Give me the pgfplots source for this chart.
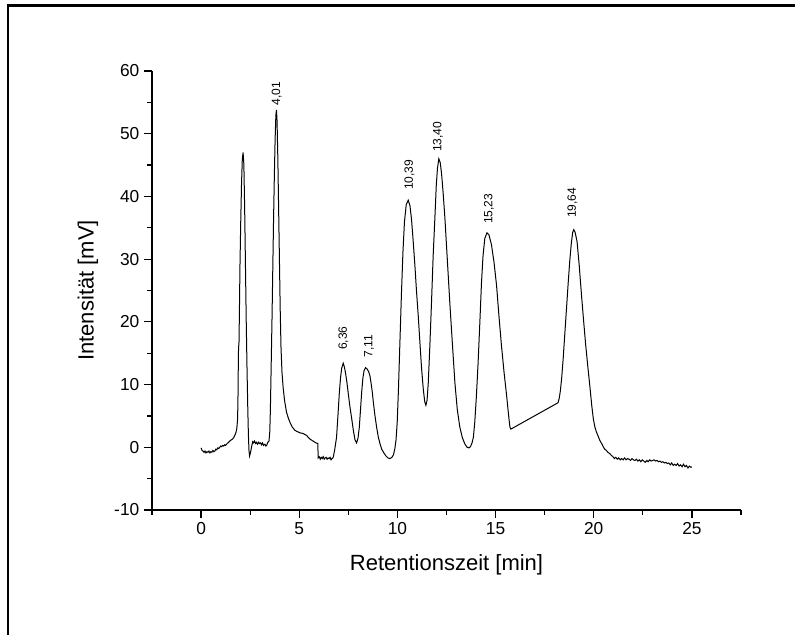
\documentclass[border=0pt]{standalone}
\usepackage{pgfplots}
\pgfplotsset{compat=1.18}
\usepackage{fontspec}
\setmainfont{Liberation Sans}
\begin{document}
\begin{tikzpicture}
\path[use as bounding box] (-114pt,-93.75pt) rectangle (482.25pt,382.5pt);
\draw[line width=1.7pt] (-108.15pt,-93.75pt) -- (-108.15pt,378.4pt) -- (482.25pt,378.4pt);
\begin{axis}[
  scale only axis, width=441.75pt, height=329.25pt,
  xmin=-2.5, xmax=27.5, ymin=-10, ymax=60,
  axis x line*=bottom, axis y line*=left,
  axis line style={line width=0.9pt},
  xtick={0,5,10,15,20,25}, ytick={-10,0,10,20,30,40,50,60},
  minor xtick={-2.5,2.5,7.5,12.5,17.5,22.5,27.5},
  minor ytick={-5,5,15,25,35,45,55},
  tick align=outside, major tick length=6pt, minor tick length=3.4pt,
  tick style={line width=0.9pt, black},
  /pgf/number format/assume math mode=true,
  ticklabel style={font=\fontsize{13}{15}\selectfont},
  xlabel={Retentionszeit [min]}, ylabel={Intensit\"at [mV]},
  label style={font=\fontsize{16.5}{19}\selectfont},
  xlabel style={at={(axis description cs:0.5,-0.1245)}, anchor=center},
  ylabel style={at={(axis description cs:-0.1087,0.5)}, anchor=center},
  clip=false,
]
\addplot[black, line width=0.75pt] coordinates {
(0.00,-0.1) (0.05,-0.5) (0.10,-0.6) (0.15,-0.8) (0.20,-0.6) (0.25,-0.9) (0.30,-0.7) (0.35,-0.8) (0.40,-0.6) (0.45,-0.9) (0.50,-0.7) (0.55,-0.8) (0.60,-0.5) (0.65,-0.7) (0.70,-0.6) (0.75,-0.3) (0.80,-0.4) (0.85,-0.1) (0.90,-0.2) (0.95,0.0) (1.00,0.2) (1.05,0.1) (1.10,0.3) (1.15,0.2) (1.20,0.4) (1.25,0.3) (1.30,0.5) (1.40,0.8) (1.50,1.1) (1.60,1.3) (1.65,1.5) (1.72,1.9) (1.78,2.4) (1.82,3.0) (1.86,4.5) (1.88,8) (1.90,14.5) (1.91,16.0) (1.93,16.5) (1.95,21) (1.98,28.8) (2.02,36) (2.06,42) (2.10,46) (2.14,47.0) (2.18,45) (2.22,38) (2.26,29) (2.30,20) (2.34,12.5) (2.38,6) (2.41,2.0) (2.44,-0.5) (2.47,-1.4) (2.52,-0.8) (2.58,0.2) (2.63,0.9) (2.68,0.7) (2.72,1.0) (2.78,0.6) (2.83,0.8) (2.88,0.5) (2.93,0.8) (2.98,0.6) (3.03,0.7) (3.08,0.4) (3.13,0.7) (3.18,0.3) (3.25,0.5) (3.30,0.2) (3.34,0.3) (3.40,0.8) (3.46,1.0) (3.50,2.5) (3.53,6) (3.57,13) (3.61,20) (3.65,28) (3.69,36) (3.73,43) (3.77,49) (3.81,53) (3.84,53.8) (3.87,52) (3.91,46) (3.95,38) (3.99,30) (4.03,22) (4.07,16) (4.12,12) (4.18,9.5) (4.25,7.5) (4.35,5.6) (4.45,4.6) (4.55,3.8) (4.65,3.2) (4.78,2.7) (4.90,2.5) (5.04,2.3) (5.20,2.2) (5.30,2.0) (5.38,1.9) (5.45,1.6) (5.55,1.3) (5.65,1.1) (5.75,0.9) (5.85,0.7) (5.95,0.6) (5.96,-1.7) (6.02,-1.5) (6.07,-1.9) (6.12,-1.6) (6.17,-1.8) (6.22,-1.5) (6.27,-1.9) (6.32,-1.7) (6.37,-1.6) (6.42,-1.9) (6.47,-1.7) (6.52,-1.8) (6.57,-1.6) (6.62,-2.0) (6.67,-1.8) (6.73,-1.6) (6.80,-0.5) (6.90,1.6) (6.97,5) (7.04,8.6) (7.10,11) (7.16,12.6) (7.24,13.4) (7.30,12.8) (7.36,11.8) (7.43,10.3) (7.50,8.5) (7.58,6.5) (7.67,4.6) (7.76,2.6) (7.84,1.2) (7.92,0.7) (7.99,1.4) (8.06,3.2) (8.12,6) (8.18,8.8) (8.24,11) (8.30,12.2) (8.38,12.7) (8.45,12.5) (8.53,12.1) (8.60,11.4) (8.66,10.2) (8.72,8.8) (8.77,7.3) (8.85,5.2) (8.94,3.2) (9.03,1.6) (9.11,0.6) (9.20,-0.3) (9.31,-0.9) (9.42,-1.4) (9.52,-1.7) (9.62,-1.8) (9.72,-1.6) (9.80,-1.2) (9.87,-0.2) (9.93,1.2) (9.99,4) (10.05,9) (10.12,16) (10.20,24) (10.28,31) (10.36,36) (10.45,38.7) (10.55,39.4) (10.64,38.5) (10.72,36.3) (10.80,33) (10.89,29) (10.97,25) (11.06,21) (11.15,16.5) (11.23,12.6) (11.32,9.2) (11.39,7.3) (11.45,6.7) (11.51,7.5) (11.57,10.2) (11.65,16) (11.74,23.4) (11.82,30.5) (11.91,36.7) (11.98,41.8) (12.04,44.5) (12.11,46.0) (12.18,45.4) (12.25,43.6) (12.33,40.5) (12.42,36.5) (12.54,30) (12.67,23) (12.80,16.5) (12.93,10.2) (13.05,6) (13.18,3.2) (13.31,1.5) (13.44,0.5) (13.55,0.0) (13.64,-0.1) (13.72,0.1) (13.80,0.7) (13.87,1.6) (13.94,4) (14.02,8) (14.11,13.5) (14.20,20) (14.28,26.1) (14.36,30.5) (14.45,33.3) (14.56,34.2) (14.66,33.9) (14.79,32.3) (14.92,29.5) (15.05,25.8) (15.17,21) (15.30,16.2) (15.43,12) (15.56,8.3) (15.65,5.5) (15.73,3.2) (15.78,2.9) (18.18,7.1) (18.24,7.8) (18.30,9.0) (18.37,11.2) (18.44,14.0) (18.52,17.8) (18.61,22) (18.70,26.3) (18.78,29.8) (18.86,32.6) (18.93,34.3) (18.98,34.7) (19.05,34.3) (19.15,32.8) (19.26,29) (19.37,24.5) (19.48,20.3) (19.59,16.3) (19.70,12.8) (19.80,9.8) (19.90,6.6) (19.98,4.5) (20.06,3.2) (20.14,2.4) (20.22,1.8) (20.31,1.1) (20.40,0.6) (20.48,0.1) (20.56,-0.3) (20.64,-0.5) (20.72,-0.8) (20.81,-1.0) (20.90,-1.3) (20.98,-1.5) (21.05,-1.8) (21.12,-1.6) (21.20,-1.9) (21.27,-1.7) (21.35,-2.0) (21.42,-1.8) (21.50,-2.0) (21.57,-1.7) (21.65,-2.0) (21.72,-1.8) (21.80,-1.9) (21.87,-2.1) (21.95,-1.8) (22.02,-2.0) (22.10,-2.1) (22.17,-1.9) (22.25,-2.2) (22.32,-2.0) (22.40,-2.3) (22.47,-2.0) (22.55,-2.2) (22.62,-2.4) (22.70,-2.1) (22.77,-2.3) (22.85,-2.0) (22.92,-2.2) (23.00,-2.1) (23.07,-2.0) (23.15,-2.2) (23.22,-2.1) (23.30,-2.3) (23.37,-2.2) (23.45,-2.4) (23.52,-2.3) (23.60,-2.5) (23.67,-2.4) (23.75,-2.6) (23.82,-2.5) (23.90,-2.8) (23.97,-2.5) (24.05,-2.9) (24.12,-2.7) (24.20,-2.9) (24.27,-2.6) (24.35,-3.0) (24.42,-2.8) (24.50,-3.1) (24.57,-2.7) (24.65,-3.1) (24.72,-2.9) (24.80,-3.3) (24.87,-3.0) (24.95,-3.2) (24.99,-3.1)
};
\begin{scope}[every node/.style={rotate=90, anchor=west, inner sep=0pt, font=\fontsize{9}{10}\selectfont}]
\node at (axis cs:3.85,54.5) {4,01};
\node at (axis cs:7.25,15.5) {6,36};
\node at (axis cs:8.55,14.35) {7,11};
\node at (axis cs:10.61,41.0) {10,39};
\node at (axis cs:12.06,47.05) {13,40};
\node at (axis cs:14.66,35.57) {15,23};
\node at (axis cs:18.91,36.52) {19,64};
\end{scope}
\end{axis}
\end{tikzpicture}
\end{document}
